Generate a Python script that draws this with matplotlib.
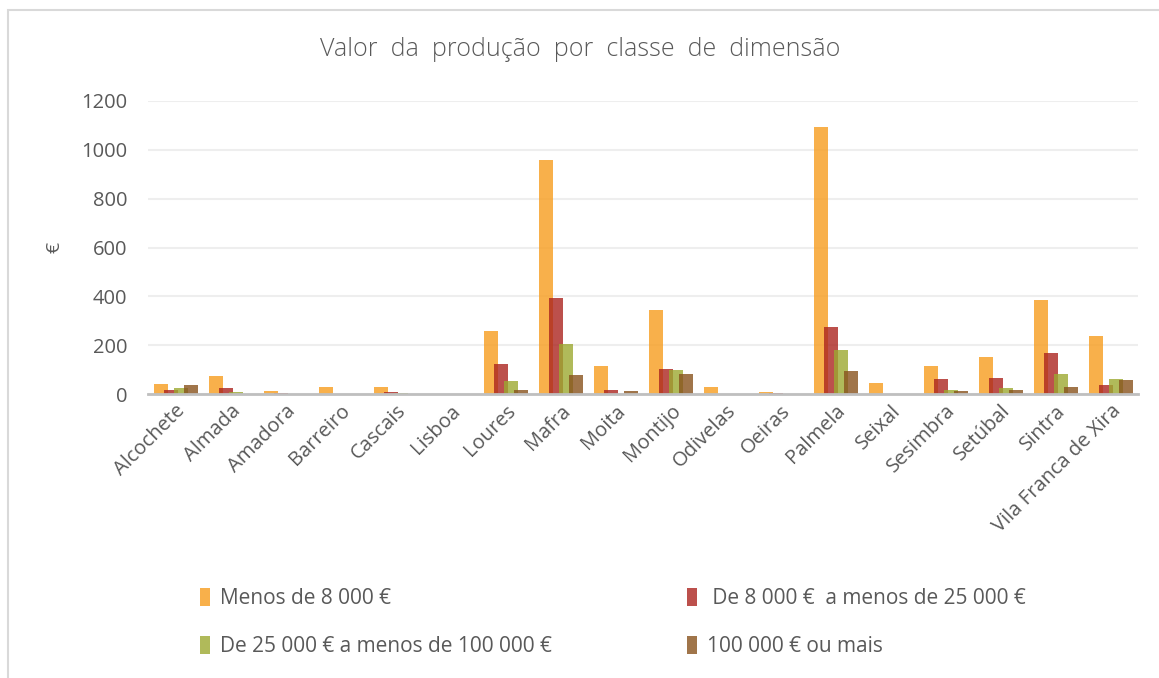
import numpy as np
import matplotlib.pyplot as plt
from matplotlib.patches import Rectangle

plt.rcParams['font.family'] = ['Open Sans', 'DejaVu Sans']

# dados
concelhos = ["Alcochete", "Almada", "Amadora", "Barreiro", "Cascais", "Lisboa",
             "Loures", "Mafra", "Moita", "Montijo", "Odivelas", "Oeiras",
             "Palmela", "Seixal", "Sesimbra", "Setúbal", "Sintra",
             "Vila Franca de Xira"]
menos_8000 = [41, 74, 12, 29, 30, 2, 257, 957, 114, 342, 28, 8, 1092, 45, 114, 150, 383, 236]
de_8000_25000 = [16, 25, 4, 0, 8, 2, 122, 395, 16, 102, 1, 4, 273, 2, 61, 65, 167, 37]
de_25000_100000 = [25, 8, 2, 1, 3, 1, 53, 204, 1, 98, 0, 1, 179, 0, 16, 24, 81, 61]
mais_100000 = [37, 2, 1, 2, 2, 1, 16, 77, 12, 81, 0, 1, 94, 0, 12, 16, 28, 57]

series = [
    ("Menos de 8 000 €", menos_8000, "#F79D1E"),
    (" De 8 000 €  a menos de 25 000 €", de_8000_25000, "#AB241F"),
    ("De 25 000 € a menos de 100 000 €", de_25000_100000, "#9CA931"),
    ("100 000 € ou mais", mais_100000, "#88521D"),
]

cinza = "#595959"
fig = plt.figure(figsize=(11.59, 6.78), dpi=100)
ax = fig.add_axes([148 / 1159, 1 - 394 / 678, 990 / 1159, 293 / 678])

x = np.arange(len(concelhos))
passo = 10 / 55
largura = 14 / 55
handles = {}
for i, (nome, vals, cor) in enumerate(series):
    b = ax.bar(x + (i - 1.5) * passo, vals, width=largura, color=cor, alpha=0.8,
               label=nome, zorder=3)
    handles[nome] = b

ax.set_xlim(-0.5, len(concelhos) - 0.5)
ax.set_ylim(0, 1200)
ax.set_yticks(range(0, 1201, 200))
ax.set_xticks(x)
ax.set_xticklabels(concelhos, rotation=45, ha="right", rotation_mode="anchor",
                   fontsize=14.5, color=cinza)
ax.tick_params(axis="y", labelsize=14.5, labelcolor=cinza, length=0, pad=15)
ax.tick_params(axis="x", length=0, pad=5)
ax.grid(axis="y", color="#EEEEEE", linewidth=1.5, zorder=0)
for s in ["top", "right", "left"]:
    ax.spines[s].set_visible(False)
ax.spines["bottom"].set_color("#BFBFBF")
ax.spines["bottom"].set_linewidth(2)
ax.spines["bottom"].set_zorder(4)

fig.text(55 / 1159, 1 - 247 / 678, "€", rotation=90, fontsize=14, color=cinza,
         ha="center", va="center")
fig.text(580 / 1159, 1 - 50 / 678, "Valor  da  produção  por  classe  de  dimensão",
         fontsize=18, color=cinza, ha="center", va="center", fontweight="light")

ordem = [series[0][0], series[2][0], series[1][0], series[3][0]]
leg = fig.legend([handles[n] for n in ordem], ordem, loc="upper left",
                 bbox_to_anchor=(181 / 1159, 1 - 569 / 678), ncol=2, frameon=False,
                 fontsize=15, labelcolor=cinza, handlelength=0.5, handleheight=0.95,
                 handletextpad=0.45, labelspacing=1.3, columnspacing=6.5)

fig.patches.append(Rectangle((8 / 1159, -0.05), 1.1, 1 - 10 / 678 + 0.05,
                             transform=fig.transFigure, fill=False,
                             edgecolor="#D9D9D9", linewidth=1.5))

fig.savefig("out.png", dpi=100)
